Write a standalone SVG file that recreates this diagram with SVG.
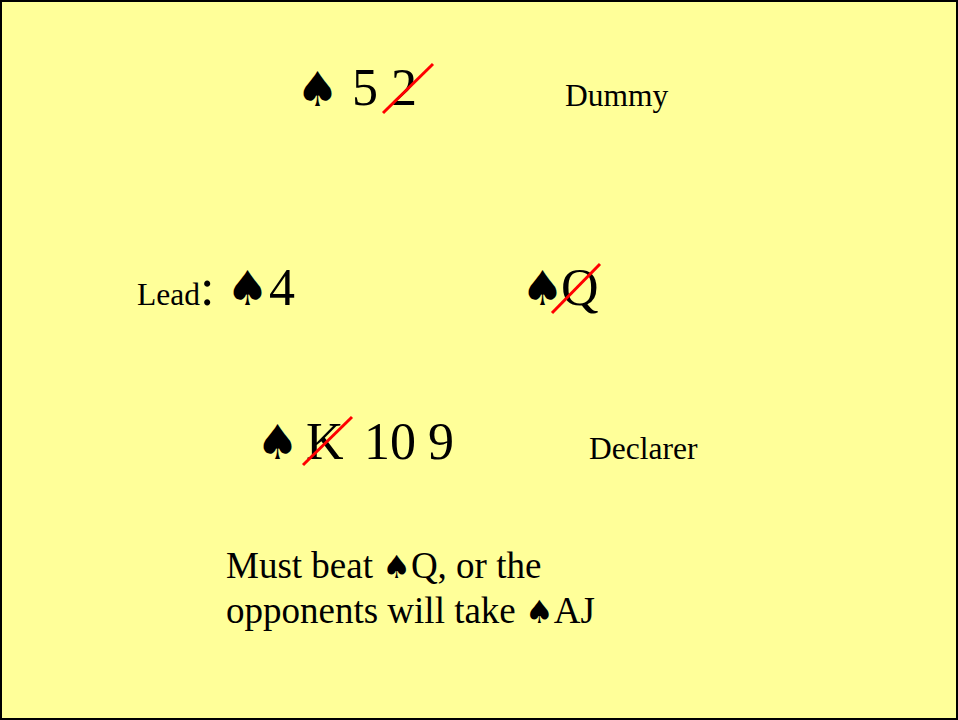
<svg xmlns="http://www.w3.org/2000/svg" width="958" height="720" viewBox="0 0 958 720">
<style>
.t{font-family:"Liberation Serif","Times New Roman",serif;fill:#000}
.big{font-size:52px}
.lbl{font-size:31.5px}
.txt{font-size:37px}
.sp{font-family:"DejaVu Sans",sans-serif;fill:#000;font-size:48px}
.sps{font-family:"DejaVu Sans",sans-serif;font-size:32px}
.x{stroke:#ff0000;stroke-width:3;fill:none}
</style>
<rect x="1" y="1" width="956" height="718" fill="#ffff99" stroke="#000" stroke-width="2"/>
<g id="dummy">
<text class="sp" x="296" y="106">♠</text>
<text class="t big" x="352" y="105">5</text>
<text class="t big" x="391" y="105">2</text>
<line class="x" x1="383" y1="113" x2="433" y2="64"/>
<text class="t lbl" x="565" y="106">Dummy</text>
</g>
<g id="lead">
<text class="t lbl" x="137" y="305">Lead</text>
<text class="t big" x="200" y="305">:</text>
<text class="sp" x="226" y="305">♠</text>
<text class="t big" x="269" y="305">4</text>
</g>
<g id="east">
<text class="t big" x="521" y="305"><tspan class="sp">♠</tspan><tspan x="561">Q</tspan></text>
<line class="x" x1="552" y1="313" x2="600" y2="264"/>
</g>
<g id="declarer">
<text class="sp" x="256" y="459">♠</text>
<text class="t big" x="306" y="459">K</text>
<text class="t big" x="364" y="459">10</text>
<text class="t big" x="428" y="459">9</text>
<line class="x" x1="303" y1="465" x2="352" y2="417"/>
<text class="t lbl" x="589" y="459">Declarer</text>
</g>
<g id="note">
<text class="t txt" x="226" y="578">Must beat <tspan class="sps">♠</tspan>Q, or the</text>
<text class="t txt" x="226" y="623">opponents will take <tspan class="sps">♠</tspan>AJ</text>
</g>
</svg>
